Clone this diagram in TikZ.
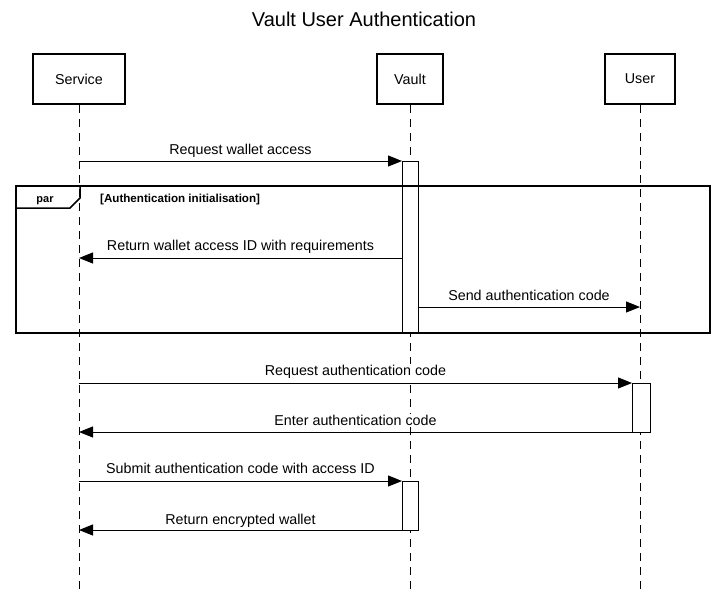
\documentclass[tikz,border=0pt]{standalone}
\usepackage{fontspec}
\setmainfont{Liberation Sans}
\usetikzlibrary{arrows.meta}
\begin{document}
\begin{tikzpicture}[x=1pt,y=-1pt,
  actor/.style={draw,line width=2pt,fill=white,minimum width=#1,minimum height=50pt,inner sep=0pt,font=\fontsize{14.3}{16}\selectfont},
  life/.style={draw,line width=1pt,dash pattern=on 8pt off 6pt},
  act/.style={draw,line width=1pt,fill=white},
  msg/.style={draw,line width=1pt,-{Triangle[length=14pt,width=11pt]}},
  lbl/.style={font=\fontsize{14.3}{16}\selectfont,inner xsep=1pt,inner ysep=1pt,anchor=base,fill=white},
]
\useasboundingbox (0,0) rectangle (728,592);
\node[font=\fontsize{20}{24}\selectfont] (title) at (364,19) {Vault User Authentication};
% participants
\node[actor=92pt] (svc) at (79,79) {Service};
\node[actor=66pt] (vlt) at (410,79) {Vault};
\node[actor=70pt] (usr) at (640,79) {User};
\coordinate (svcE) at (79,592);
\coordinate (vltE) at (410,592);
\coordinate (usrE) at (640,592);
\draw[life] (svc.south) -- (svcE);
\draw[life] (vlt.south) -- (vltE);
\draw[life] (usr.south) -- (usrE);
% activations
\draw[act] (402,161) rectangle (418,333);
\draw[act] (632,383) rectangle (650,432);
\draw[act] (402,481) rectangle (418,530);
% par frame
\draw[line width=2pt] (16,186) rectangle (710,333);
\draw[line width=1.5pt] (16,208) -- (70,208) -- (80,198) -- (80,186);
\node[font=\fontsize{11}{13}\selectfont\bfseries,anchor=base] (parl) at (45,202) {par};
\node[font=\fontsize{11.6}{13}\selectfont\bfseries,anchor=base west,inner sep=0pt] (guard) at (100,202) {[Authentication initialisation]};
% coordinates for messages
\coordinate (m1a) at (79,161); \coordinate (m1b) at (402,161);
\coordinate (m2a) at (402,258); \coordinate (m2b) at (79,258);
\coordinate (m3a) at (418,307); \coordinate (m3b) at (640,307);
\coordinate (m4a) at (79,383); \coordinate (m4b) at (632,383);
\coordinate (m5a) at (632,432); \coordinate (m5b) at (79,432);
\coordinate (m6a) at (79,481); \coordinate (m6b) at (402,481);
\coordinate (m7a) at (402,530); \coordinate (m7b) at (79,530);
\draw[msg] (m1a) -- (m1b);
\draw[msg] (m2a) -- (m2b);
\draw[msg] (m3a) -- (m3b);
\draw[msg] (m4a) -- (m4b);
\draw[msg] (m5a) -- (m5b);
\draw[msg] (m6a) -- (m6b);
\draw[msg] (m7a) -- (m7b);
\node[lbl] (l1) at (240.5,154) {Request wallet access};
\node[lbl] (l2) at (240.5,250) {Return wallet access ID with requirements};
\node[lbl] (l3) at (529,300) {Send authentication code};
\node[lbl] (l4) at (355.5,375) {Request authentication code};
\node[lbl] (l5) at (355.5,425) {Enter authentication code};
\node[lbl] (l6) at (240.5,473) {Submit authentication code with access ID};
\node[lbl] (l7) at (240.5,524) {Return encrypted wallet};
\end{tikzpicture}
\end{document}
